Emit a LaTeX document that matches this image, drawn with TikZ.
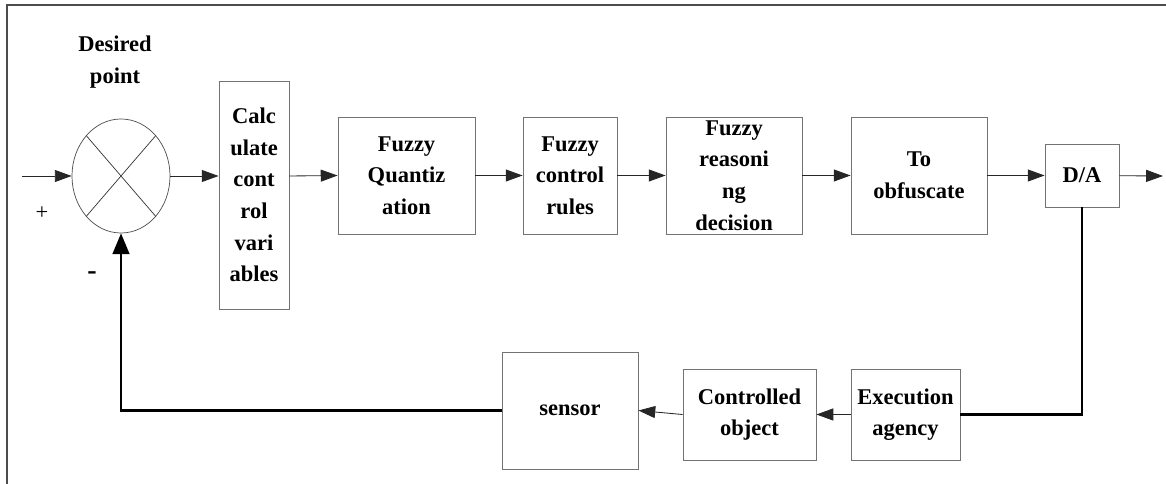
\documentclass[tikz,border=0pt]{standalone}
\usepackage{fontspec}
\setmainfont{Liberation Serif}
\usetikzlibrary{arrows.meta,shapes.geometric}

\begin{document}
\begin{tikzpicture}[x=0.025cm,y=-0.025cm,
  blk/.style={draw=black!55,line width=0.6pt,align=center,inner sep=0pt,
    font=\fontsize{16}{22.5}\selectfont\bfseries},
  sig/.style={line width=0.6pt,black!85,-{Triangle[length=0.42cm,width=0.3cm]}},
  fb/.style={line width=1.6pt,black}]
\useasboundingbox (0,0) rectangle (1166,484);
\draw[black!70,line width=1pt] (7,484) -- (7,5) -- (1166,5);

% comparator
\node[draw=black!70,line width=0.5pt,ellipse,inner sep=0pt,
  minimum width=2.45cm,minimum height=2.85cm] (sum) at (121,176) {};
\draw[black!80,line width=0.5pt] (sum.north east) -- (sum.south west)
  (sum.north west) -- (sum.south east);
\node[font=\fontsize{16}{22.5}\selectfont\bfseries,align=center] (goal) at (115,62) {Desired\\point};
\node[font=\fontsize{16}{18}\selectfont] (plus) at (42,213) {+};
\node[font=\fontsize{20}{20}\selectfont\bfseries] (minus) at (92,276) {-};

% forward path
\node[blk,minimum width=1.75cm,minimum height=5.7cm] (calc) at (254,195)
  {Calc\\ulate\\cont\\rol\\vari\\ables};
\node[blk,minimum width=3.425cm,minimum height=2.925cm] (quant) at (406.5,175.5)
  {Fuzzy\\Quantiz\\ation};
\node[blk,minimum width=2.35cm,minimum height=2.925cm] (rules) at (570,175.5)
  {Fuzzy\\control\\rules};
\node[blk,minimum width=3.4cm,minimum height=2.925cm] (reason) at (734,175.5)
  {Fuzzy\\reasoni\\ng\\decision};
\node[blk,minimum width=3.4cm,minimum height=2.925cm] (defuzz) at (919,175.5)
  {To\\obfuscate};
\node[blk,minimum width=1.85cm,minimum height=1.575cm] (da) at (1082,175.5) {D/A};

% return path
\node[blk,minimum width=2.725cm,minimum height=2.275cm] (exec) at (905.5,414.5)
  {Execution\\agency};
\node[blk,minimum width=3.325cm,minimum height=2.275cm] (plant) at (749.5,414.5)
  {Controlled\\object};
\node[blk,minimum width=3.4cm,minimum height=2.925cm] (sensor) at (570,410.5) {sensor};

\coordinate (in) at (22,176);
\coordinate (out) at (1163,176);

\draw[sig] (in) -- (sum.west);
\draw[sig] (sum.east) -- (sum.east -| calc.west);
\draw[sig] (sum.east -| calc.east) -- (quant.west);
\draw[sig] (quant) -- (rules);
\draw[sig] (rules) -- (reason);
\draw[sig] (reason) -- (defuzz);
\draw[sig] (defuzz) -- (da);
\draw[sig] (da) -- (out);
\draw[fb] (da.south) |- (exec.east);
\draw[sig] (exec) -- (plant);
\draw[sig] (plant.west) -- (sensor.east);
\draw[fb,-{Triangle[length=0.52cm,width=0.42cm]}] (sensor.west) -| (sum.south);
\end{tikzpicture}
\end{document}
